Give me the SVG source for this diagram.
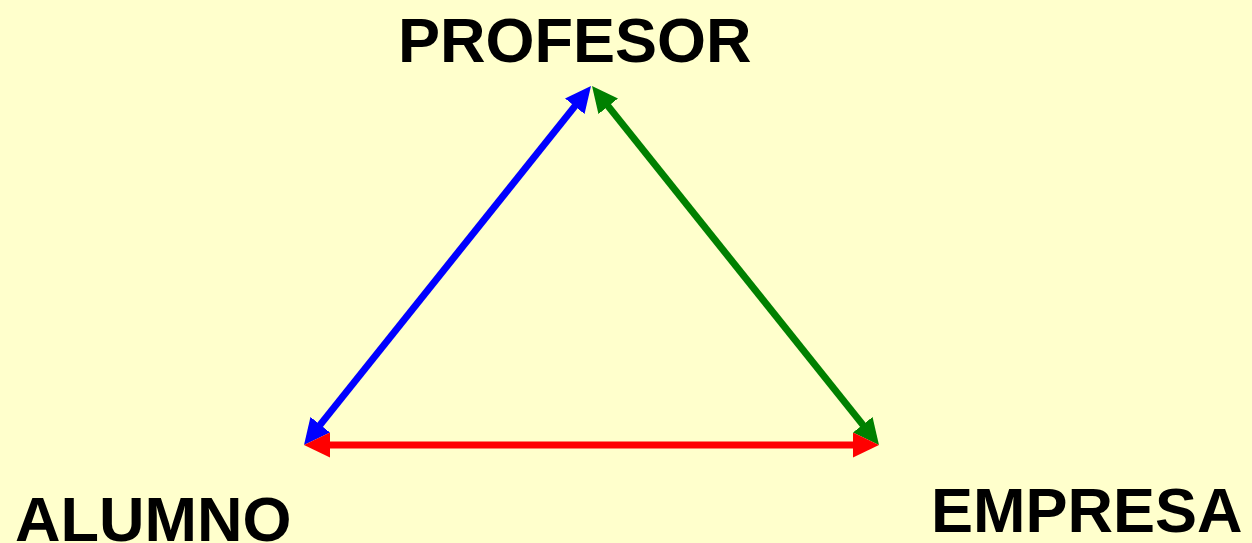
<svg xmlns="http://www.w3.org/2000/svg" width="1252" height="543" viewBox="0 0 1252 543">
<style>
.lbl{font-family:"Liberation Sans",Arial,sans-serif;font-weight:bold;font-size:63px;fill:#000}
.c{stroke-width:7;fill:none}
</style>
<defs>
<marker id="hb" markerUnits="userSpaceOnUse" markerWidth="26" markerHeight="25" refX="6" refY="12.5" orient="auto-start-reverse" viewBox="0 0 26 25"><path d="M0,0 L26,12.5 L0,25 z" fill="#0000FF"/></marker>
<marker id="hg" markerUnits="userSpaceOnUse" markerWidth="26" markerHeight="25" refX="6" refY="12.5" orient="auto-start-reverse" viewBox="0 0 26 25"><path d="M0,0 L26,12.5 L0,25 z" fill="#008000"/></marker>
<marker id="hr" markerUnits="userSpaceOnUse" markerWidth="26" markerHeight="25" refX="6" refY="12.5" orient="auto-start-reverse" viewBox="0 0 26 25"><path d="M0,0 L26,12.5 L0,25 z" fill="#FF0000"/></marker>
</defs>
<rect width="1252" height="543" fill="#FFFFCC"/>
<g id="connectors">
<line class="c" x1="316.5" y1="429.4" x2="578.5" y2="101.6" stroke="#0000FF" marker-start="url(#hb)" marker-end="url(#hb)"/>
<line class="c" x1="604.5" y1="101.6" x2="866.5" y2="429.4" stroke="#008000" marker-start="url(#hg)" marker-end="url(#hg)"/>
<line class="c" x1="324" y1="445" x2="859" y2="445" stroke="#FF0000" marker-start="url(#hr)" marker-end="url(#hr)"/>
</g>
<g id="profesor"><text class="lbl" x="398" y="62">PROFESOR</text></g>
<g id="alumno"><text class="lbl" x="15" y="541">ALUMNO</text></g>
<g id="empresa"><text class="lbl" x="931" y="532">EMPRESA</text></g>
</svg>
